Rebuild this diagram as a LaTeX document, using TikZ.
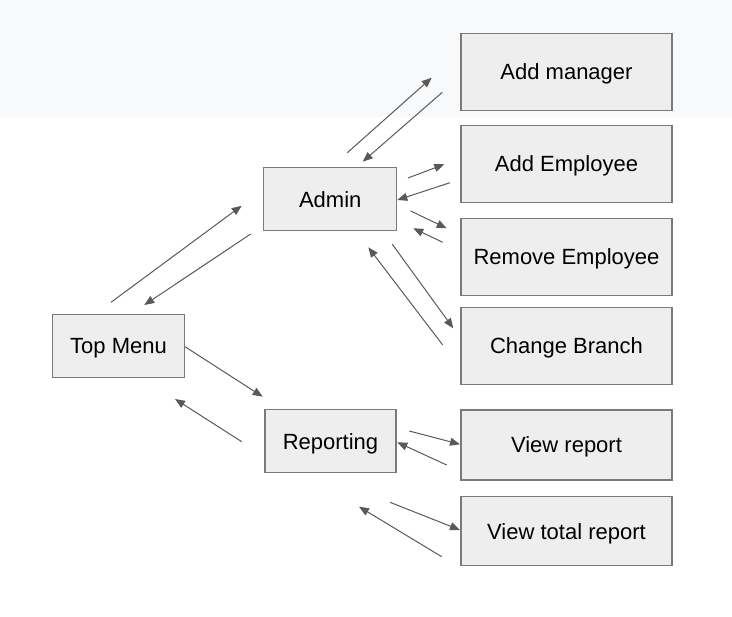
\documentclass[tikz,border=0pt]{standalone}
\usepackage{fontspec}
\setmainfont{Liberation Sans}
\usetikzlibrary{arrows.meta}
\definecolor{bandgray}{HTML}{F8F9FA}
\definecolor{boxfill}{HTML}{EEEEEE}
\definecolor{boxline}{HTML}{7A7A7A}
\definecolor{arrowgray}{HTML}{595959}
\tikzset{
  box/.style 2 args={draw=boxline, line width=0.8pt, fill=boxfill, inner sep=0pt,
    text=black, font=\fontsize{16.5}{19}\selectfont,
    text height=11.8pt, text depth=0pt,
    minimum width=#1*0.75pt, minimum height=#2*0.75pt},
  link/.style={draw=arrowgray, line width=0.75pt,
    -{Triangle[length=7.5pt,width=6pt]}}
}
\begin{document}
\begin{tikzpicture}[x=0.75pt,y=-0.75pt]
\useasboundingbox (0,0) rectangle (732,617);
\fill[bandgray] (0,0) rectangle (732,117.5);

% boxes
\node[box={211}{76.7}] (addmgr) at (566.5,71.7) {Add manager};
\node[box={211}{76.6}] (addemp) at (566.5,164) {Add Employee};
\node[box={211}{76.7}] (rememp) at (566.5,256.7) {Remove Employee};
\node[box={211}{76.7}] (chbr) at (566.5,345.7) {Change Branch};
\node[box={211}{70}] (viewrep) at (566.5,445) {View report};
\node[box={211}{69}] (viewtot) at (566.5,531.2) {View total report};
\node[box={132.5}{63.3}] (admin) at (330.2,199.3) {Admin};
\node[box={131}{62.7}] (report) at (330.5,441.3) {Reporting};
\node[box={131.6}{63.3}] (topmenu) at (118.5,345.7) {Top Menu};

% connector end points
\coordinate (a1s) at (347.3,152.7); \coordinate (a1e) at (431.7,77.7);
\coordinate (a2s) at (442.3,92.3);  \coordinate (a2e) at (362.7,161.7);
\coordinate (a3s) at (408,178);     \coordinate (a3e) at (444.3,164.3);
\coordinate (a4s) at (450,182.7);   \coordinate (a4e) at (397.3,200);
\coordinate (a5s) at (410.7,211);   \coordinate (a5e) at (446.7,228.3);
\coordinate (a6s) at (442.7,242.3); \coordinate (a6e) at (413.3,228.3);
\coordinate (a7s) at (392.3,244.3); \coordinate (a7e) at (453.3,328.3);
\coordinate (a8s) at (442.7,345);   \coordinate (a8e) at (368.3,247.3);
\coordinate (a9s) at (409.3,431);   \coordinate (a9e) at (460,444.3);
\coordinate (a10s) at (446.7,465);  \coordinate (a10e) at (397.3,442.3);
\coordinate (a11s) at (390,502.3);  \coordinate (a11e) at (460,530);
\coordinate (a12s) at (441.7,556.7);\coordinate (a12e) at (359,506.7);
\coordinate (a13s) at (111,302.3);  \coordinate (a13e) at (241.7,205.7);
\coordinate (a14s) at (250.7,234);  \coordinate (a14e) at (144.3,305);
\coordinate (a15s) at (185,346.7);  \coordinate (a15e) at (262.7,396.7);
\coordinate (a16s) at (241.7,441.7);\coordinate (a16e) at (175,399);

% connectors
\draw[link] (a1s) -- (a1e);
\draw[link] (a2s) -- (a2e);
\draw[link] (a3s) -- (a3e);
\draw[link] (a4s) -- (a4e);
\draw[link] (a5s) -- (a5e);
\draw[link] (a6s) -- (a6e);
\draw[link] (a7s) -- (a7e);
\draw[link] (a8s) -- (a8e);
\draw[link] (a9s) -- (a9e);
\draw[link] (a10s) -- (a10e);
\draw[link] (a11s) -- (a11e);
\draw[link] (a12s) -- (a12e);
\draw[link] (a13s) -- (a13e);
\draw[link] (a14s) -- (a14e);
\draw[link] (a15s) -- (a15e);
\draw[link] (a16s) -- (a16e);
\end{tikzpicture}
\end{document}
